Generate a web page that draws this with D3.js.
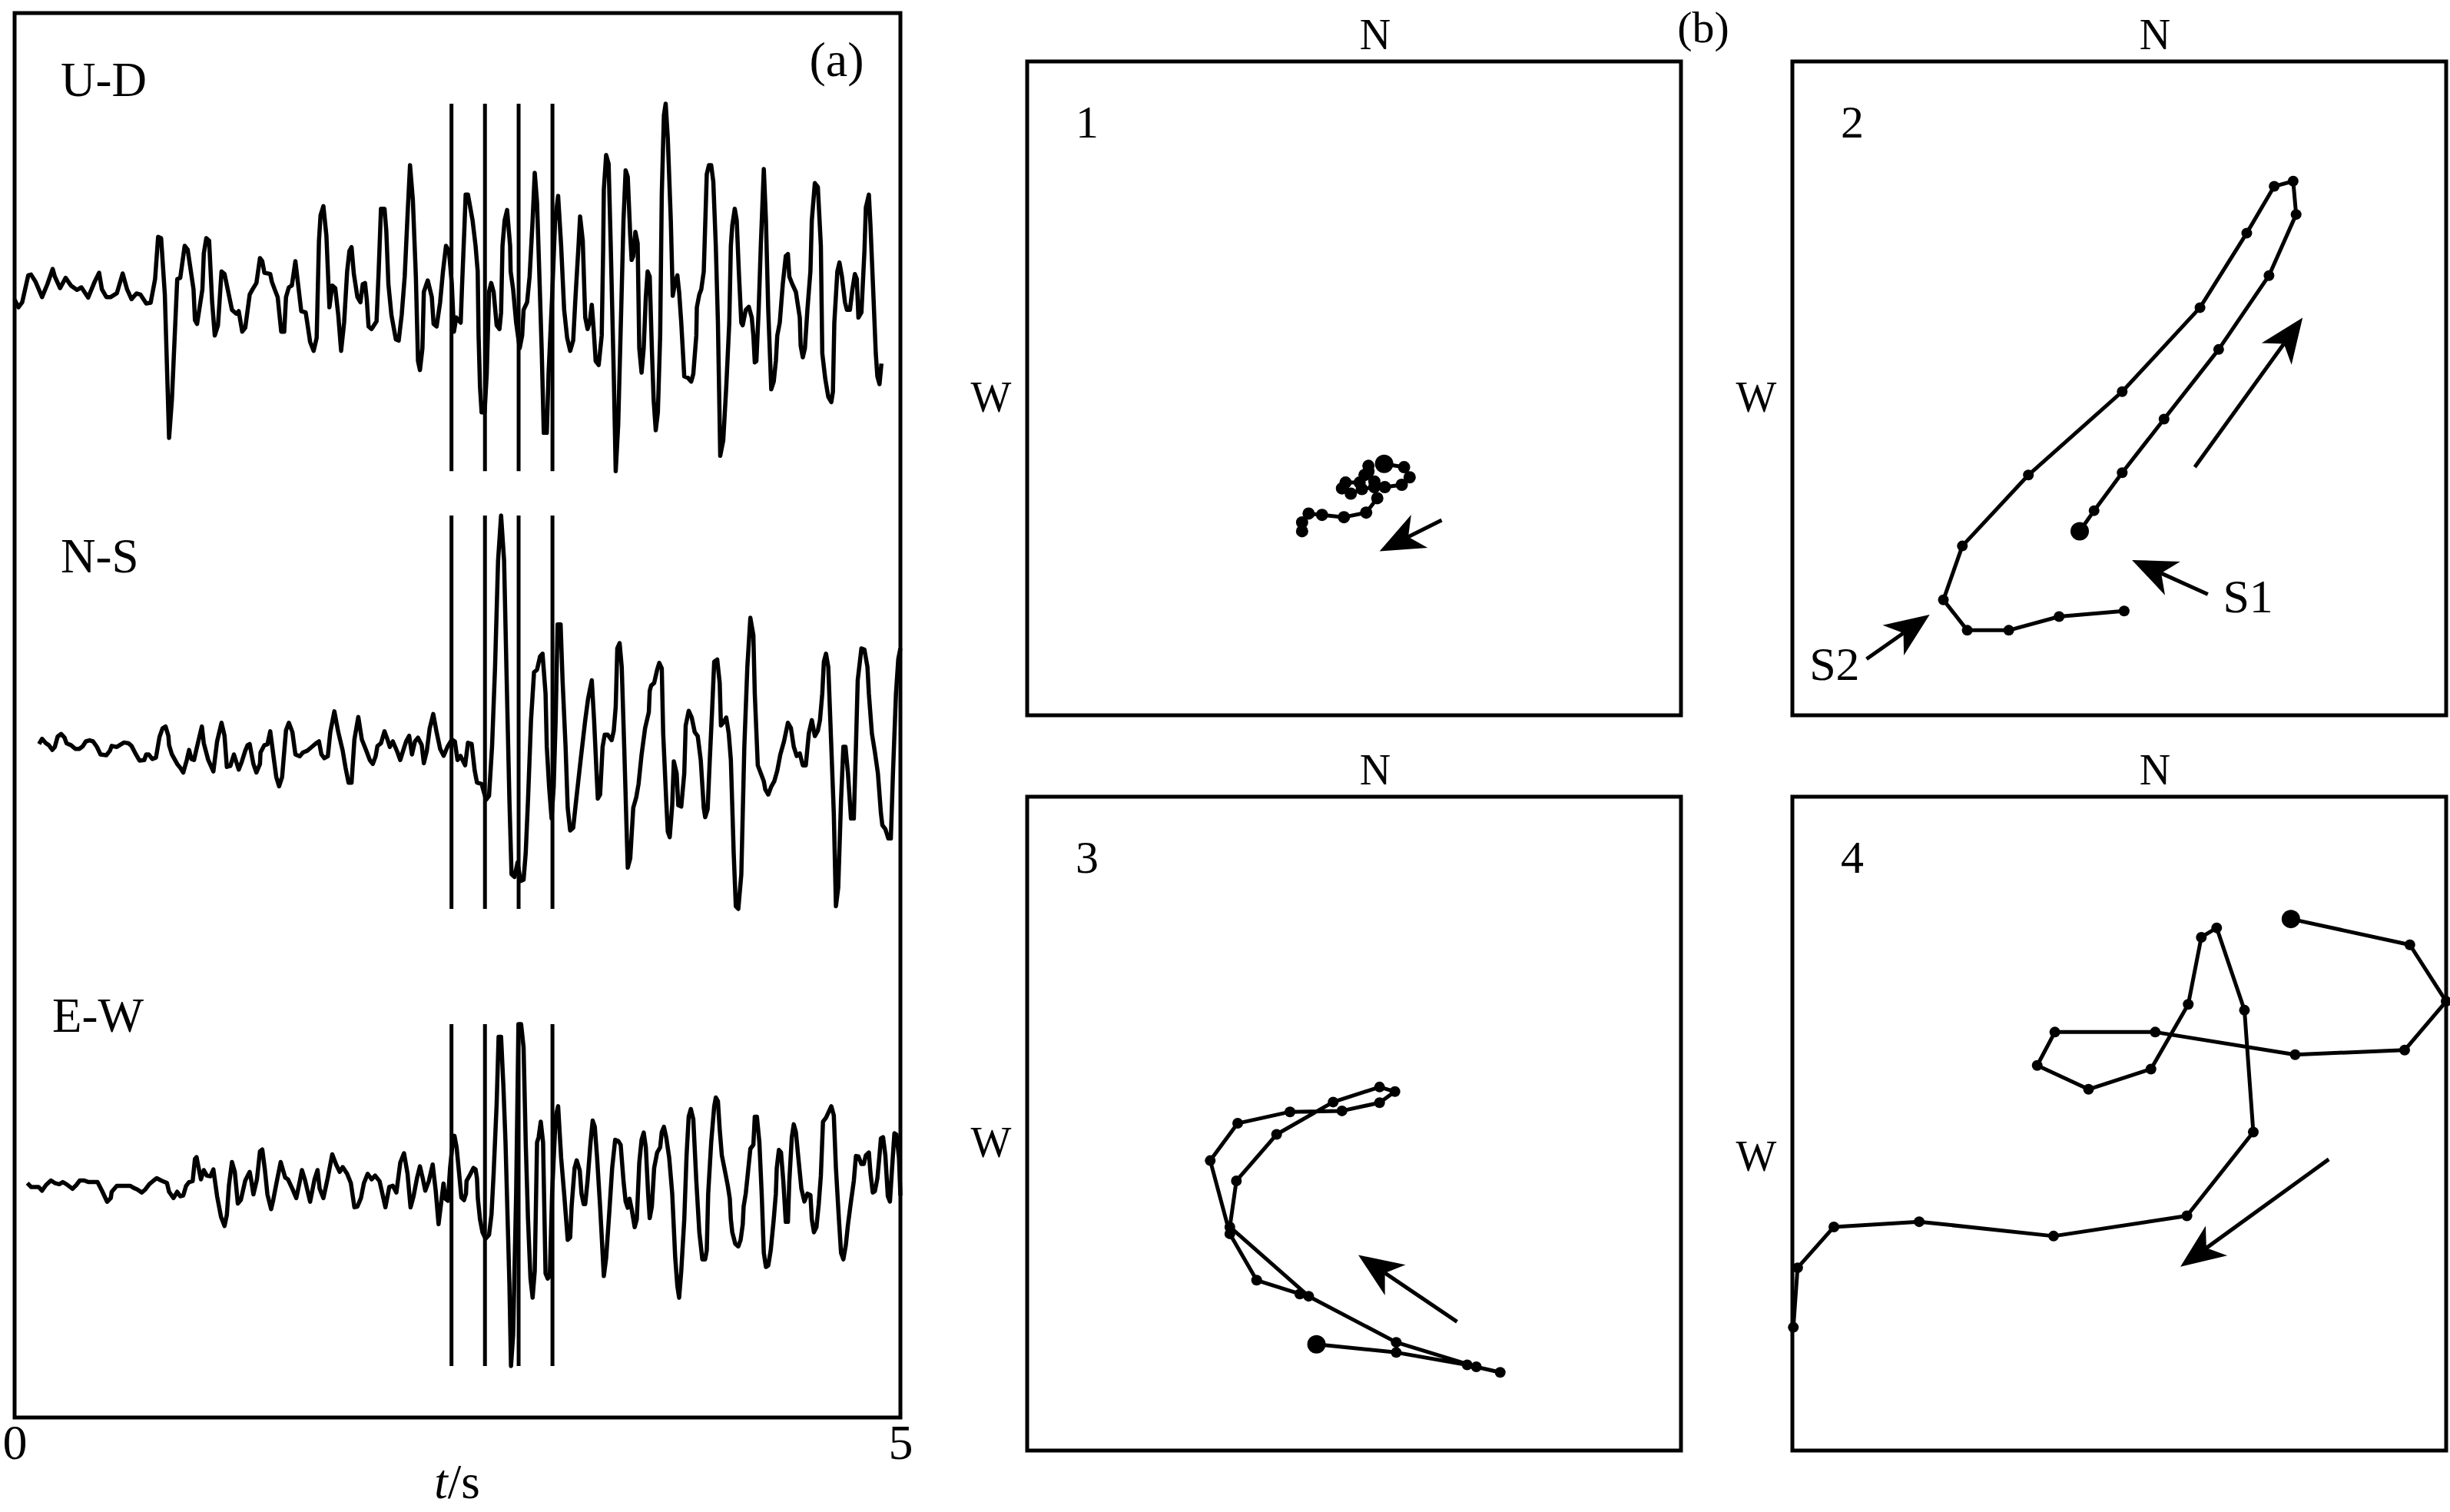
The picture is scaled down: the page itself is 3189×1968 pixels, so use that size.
<!DOCTYPE html>
<html><head><meta charset="utf-8">
<script src="https://cdn.jsdelivr.net/npm/d3@7"></script>
<style>body{margin:0;background:#fff}svg{display:block}text{font-family:"Liberation Serif","Times New Roman",serif;fill:#000}</style>
</head><body><svg id="c" width="3189" height="1968"></svg>
<script>
// ---------- data ----------
const timeTicks = [0, 5];
const markerTimes = [2.466, 2.655, 2.845, 3.036];
const componentNames = ["U-D", "N-S", "E-W"];
const panelNames = ["1", "2", "3", "4"];

const udTrace = [[0,-0.45],[0.022,-0.75],[0.043,-0.55],[0.077,0.50],[0.093,0.53],[0.118,0.25],[0.155,-0.35],[0.185,0.15],[0.215,0.75],[0.227,0.45],[0.257,0],[0.288,0.40],[0.318,0.10],[0.352,-0.07],[0.377,0.03],[0.415,-0.37],[0.452,0.25],[0.477,0.60],[0.493,-0.05],[0.518,-0.35],[0.543,-0.35],[0.577,-0.20],[0.610,0.57],[0.635,-0.05],[0.660,-0.43],[0.688,-0.21],[0.710,-0.25],[0.743,-0.60],[0.768,-0.57],[0.793,0.35],[0.810,2.00],[0.827,1.95],[0.848,-0.25],[0.872,-5.85],[0.888,-4.35],[0.918,0.35],[0.935,0.40],[0.960,1.65],[0.977,1.50],[1.010,-0.05],[1.018,-1.25],[1.030,-1.40],[1.060,-0.05],[1.068,1.35],[1.082,1.95],[1.098,1.85],[1.115,-0.55],[1.130,-1.85],[1.148,-1.45],[1.168,0.65],[1.185,0.55],[1.227,-0.85],[1.252,-1.00],[1.265,-0.90],[1.285,-1.70],[1.302,-1.55],[1.327,-0.25],[1.343,-0.05],[1.365,0.20],[1.385,1.17],[1.398,1.05],[1.410,0.60],[1.443,0.55],[1.452,0.25],[1.468,-0.05],[1.485,-0.35],[1.505,-1.70],[1.522,-1.70],[1.532,-0.35],[1.548,0.03],[1.565,0.10],[1.585,1.05],[1.602,0.05],[1.618,-0.90],[1.643,-0.95],[1.652,-1.35],[1.668,-2.10],[1.688,-2.45],[1.705,-1.95],[1.718,1.85],[1.727,2.85],[1.743,3.20],[1.760,2.05],[1.777,-0.75],[1.793,0.10],[1.810,0],[1.827,-1.05],[1.843,-2.45],[1.860,-1.35],[1.877,0.65],[1.890,1.45],[1.902,1.60],[1.915,0.55],[1.935,-0.35],[1.952,-0.55],[1.965,0.15],[1.978,0.20],[1.988,-0.45],[1.998,-1.50],[2.015,-1.60],[2.043,-1.30],[2.055,0.65],[2.068,3.10],[2.088,3.10],[2.098,2.25],[2.110,0.15],[2.127,-1.05],[2.152,-2.00],[2.168,-2.05],[2.185,-1.05],[2.202,0.45],[2.218,2.85],[2.232,4.80],[2.248,3.45],[2.265,0.45],[2.277,-2.85],[2.288,-3.20],[2.302,-2.35],[2.310,-0.15],[2.332,0.30],[2.355,-0.35],[2.365,-1.40],[2.382,-1.50],[2.402,-0.55],[2.418,0.65],[2.435,1.65],[2.452,1.45],[2.468,0.15],[2.480,-1.70],[2.493,-1.15],[2.518,-1.35],[2.526,0.15],[2.539,2.35],[2.546,3.65],[2.559,3.65],[2.585,2.65],[2.602,1.65],[2.614,0.65],[2.619,-1.85],[2.627,-3.85],[2.636,-4.85],[2.653,-4.85],[2.665,-3.35],[2.678,-0.15],[2.690,0.20],[2.704,-0.15],[2.721,-1.45],[2.737,-1.60],[2.746,-0.95],[2.754,1.65],[2.766,2.65],[2.780,3.05],[2.797,1.65],[2.800,0.65],[2.814,-0.05],[2.831,-1.35],[2.851,-2.35],[2.865,-1.85],[2.873,-0.85],[2.893,-0.55],[2.907,0.45],[2.924,2.65],[2.936,4.50],[2.949,3.35],[2.966,-0.35],[2.975,-2.35],[2.987,-5.65],[3.004,-5.65],[3.014,-3.35],[3.034,-0.35],[3.051,2.65],[3.068,3.60],[3.085,1.65],[3.102,-0.85],[3.119,-1.95],[3.136,-2.45],[3.153,-2.05],[3.166,-0.35],[3.183,1.65],[3.192,2.80],[3.207,1.85],[3.221,-1.15],[3.234,-1.60],[3.246,-1.35],[3.258,-0.65],[3.268,-1.55],[3.280,-2.85],[3.297,-3.00],[3.314,-1.85],[3.322,1.45],[3.326,3.85],[3.339,5.20],[3.353,4.85],[3.365,1.65],[3.382,-3.35],[3.393,-7.15],[3.407,-5.35],[3.424,-0.85],[3.437,2.65],[3.449,4.60],[3.461,4.35],[3.475,2.05],[3.483,1.10],[3.492,1.25],[3.504,2.20],[3.517,1.75],[3.526,-2.35],[3.539,-3.30],[3.551,-2.35],[3.563,-0.35],[3.573,0.65],[3.585,0.45],[3.597,-2.35],[3.607,-4.35],[3.619,-5.55],[3.631,-4.85],[3.644,-1.85],[3.653,3.65],[3.665,6.75],[3.675,7.20],[3.687,5.85],[3.704,2.65],[3.715,-0.30],[3.729,0.25],[3.741,0.50],[3.751,-0.15],[3.763,-1.35],[3.780,-3.45],[3.800,-3.50],[3.819,-3.65],[3.831,-3.35],[3.848,-1.85],[3.851,-0.75],[3.865,-0.25],[3.876,-0.05],[3.890,0.65],[3.907,4.45],[3.919,4.80],[3.932,4.80],[3.944,4.15],[3.958,1.65],[3.970,-1.35],[3.983,-6.55],[4.000,-5.95],[4.017,-3.85],[4.034,-1.35],[4.043,1.65],[4.051,2.45],[4.065,3.10],[4.076,2.65],[4.088,0.65],[4.102,-1.35],[4.110,-1.45],[4.127,-0.85],[4.144,-0.73],[4.161,-1.15],[4.170,-1.85],[4.178,-2.90],[4.187,-2.85],[4.200,-0.85],[4.212,1.65],[4.229,4.65],[4.241,2.65],[4.254,-0.85],[4.271,-3.95],[4.285,-3.65],[4.297,-2.85],[4.305,-1.85],[4.319,-1.35],[4.336,0.15],[4.353,1.25],[4.365,1.33],[4.373,0.45],[4.390,0.15],[4.410,-0.15],[4.432,-1.15],[4.437,-2.25],[4.449,-2.70],[4.461,-2.35],[4.475,-0.85],[4.492,0.65],[4.500,2.65],[4.517,4.10],[4.534,3.95],[4.551,1.65],[4.559,-2.55],[4.576,-3.55],[4.593,-4.25],[4.610,-4.45],[4.619,-4.05],[4.627,-1.35],[4.644,0.65],[4.656,1.00],[4.670,0.45],[4.687,-0.55],[4.698,-0.85],[4.715,-0.85],[4.729,-0.05],[4.743,0.55],[4.754,0.35],[4.763,-1.15],[4.780,-0.95],[4.797,1.45],[4.805,3.15],[4.822,3.65],[4.831,2.45],[4.848,-0.35],[4.861,-2.55],[4.870,-3.45],[4.882,-3.75],[4.893,-2.95]];

const nsTrace = [[0.138,-0.10],[0.155,0.10],[0.177,-0.07],[0.193,-0.14],[0.213,-0.32],[0.227,-0.21],[0.243,0.18],[0.263,0.28],[0.282,0.14],[0.293,-0.07],[0.318,-0.14],[0.343,-0.28],[0.365,-0.28],[0.385,-0.18],[0.402,0],[0.423,0.04],[0.443,0],[0.465,-0.21],[0.485,-0.49],[0.518,-0.52],[0.538,-0.35],[0.548,-0.17],[0.577,-0.21],[0.593,-0.14],[0.618,-0.04],[0.643,-0.07],[0.660,-0.17],[0.685,-0.49],[0.705,-0.72],[0.732,-0.70],[0.743,-0.49],[0.757,-0.49],[0.777,-0.66],[0.798,-0.61],[0.818,0.17],[0.835,0.49],[0.852,0.56],[0.868,0.21],[0.872,-0.14],[0.888,-0.49],[0.918,-0.85],[0.935,-0.99],[0.952,-1.17],[0.972,-0.70],[0.985,-0.32],[0.998,-0.66],[1.013,-0.70],[1.027,-0.28],[1.057,0.56],[1.068,-0.07],[1.093,-0.70],[1.122,-1.13],[1.143,0],[1.168,0.70],[1.185,0.21],[1.198,-0.96],[1.218,-0.92],[1.238,-0.49],[1.265,-1.06],[1.282,-0.77],[1.302,-0.35],[1.315,-0.14],[1.327,-0.10],[1.348,-0.85],[1.365,-1.17],[1.385,-0.85],[1.388,-0.42],[1.410,-0.14],[1.427,-0.11],[1.443,0.38],[1.460,-0.49],[1.477,-1.34],[1.493,-1.69],[1.510,-1.34],[1.532,0.42],[1.548,0.70],[1.568,0.35],[1.585,-0.49],[1.610,-0.56],[1.627,-0.42],[1.652,-0.35],[1.677,-0.21],[1.702,-0.07],[1.718,0],[1.732,-0.49],[1.748,-0.63],[1.768,-0.56],[1.782,0.35],[1.805,1.13],[1.827,0.35],[1.852,-0.35],[1.868,-0.99],[1.885,-1.55],[1.902,-1.55],[1.918,0.07],[1.940,0.92],[1.960,0.07],[1.985,-0.35],[2.005,-0.70],[2.022,-0.85],[2.038,-0.56],[2.048,-0.18],[2.068,-0.07],[2.088,0.38],[2.105,0.07],[2.118,-0.21],[2.135,0],[2.160,-0.39],[2.177,-0.70],[2.193,-0.35],[2.210,0],[2.227,0.21],[2.243,-0.49],[2.260,0],[2.277,0.14],[2.298,-0.14],[2.310,-0.82],[2.327,-0.35],[2.343,0.49],[2.363,1.03],[2.382,0.35],[2.402,-0.28],[2.422,-0.54],[2.443,-0.21],[2.468,0.07],[2.485,0],[2.500,-0.70],[2.517,-0.55],[2.543,-0.90],[2.559,-0.05],[2.580,-0.10],[2.597,-1.10],[2.610,-1.55],[2.636,-1.60],[2.661,-2.20],[2.678,-2.05],[2.695,-0.20],[2.712,2.80],[2.729,6.80],[2.746,8.50],[2.763,6.80],[2.776,2.80],[2.793,-2.20],[2.805,-5.00],[2.822,-5.10],[2.839,-4.55],[2.856,-5.25],[2.873,-5.20],[2.885,-4.20],[2.898,-2.20],[2.915,0.80],[2.932,2.60],[2.949,2.70],[2.966,3.20],[2.980,3.30],[2.997,1.80],[3.004,-0.20],[3.017,-1.70],[3.031,-2.90],[3.043,-1.70],[3.054,0.80],[3.065,4.40],[3.082,4.40],[3.093,2.30],[3.110,-0.20],[3.122,-2.50],[3.136,-3.35],[3.153,-3.25],[3.170,-2.20],[3.195,-0.70],[3.221,0.80],[3.237,1.60],[3.258,2.30],[3.271,0.80],[3.285,-1.20],[3.292,-2.15],[3.305,-2.00],[3.319,-0.20],[3.331,0.25],[3.348,0.25],[3.370,0.05],[3.382,0.40],[3.393,1.30],[3.402,3.50],[3.415,3.70],[3.427,2.80],[3.441,-0.20],[3.454,-3.20],[3.461,-4.75],[3.475,-4.40],[3.492,-2.50],[3.509,-2.10],[3.522,-1.60],[3.539,-0.50],[3.559,0.50],[3.580,1.10],[3.585,1.90],[3.593,2.10],[3.610,2.20],[3.627,2.70],[3.639,2.95],[3.653,2.75],[3.661,0.30],[3.678,-2.20],[3.687,-3.40],[3.698,-3.60],[3.712,-2.40],[3.721,-0.75],[3.737,-1.20],[3.746,-2.40],[3.763,-2.45],[3.780,-1.20],[3.788,0.60],[3.805,1.15],[3.822,0.90],[3.839,0.35],[3.856,0.20],[3.873,-0.70],[3.890,-2.50],[3.898,-2.85],[3.912,-2.55],[3.924,-0.70],[3.936,1.00],[3.949,3.00],[3.966,3.08],[3.980,2.20],[3.987,0.60],[4.000,0.70],[4.017,0.90],[4.031,0.30],[4.043,-0.70],[4.059,-4.20],[4.071,-6.20],[4.085,-6.30],[4.102,-5.00],[4.119,-0.20],[4.136,2.80],[4.153,4.65],[4.170,4.00],[4.178,1.80],[4.195,-0.90],[4.212,-1.20],[4.229,-1.50],[4.237,-1.80],[4.254,-2.00],[4.271,-1.70],[4.288,-1.50],[4.305,-1.10],[4.322,-0.50],[4.343,0],[4.365,0.70],[4.382,0.50],[4.398,-0.20],[4.415,-0.55],[4.432,-0.45],[4.449,-0.90],[4.466,-0.90],[4.483,0.30],[4.500,0.80],[4.517,0.20],[4.534,0.40],[4.546,0.80],[4.559,1.80],[4.568,3.00],[4.580,3.30],[4.593,2.80],[4.610,-0.20],[4.624,-2.70],[4.636,-6.20],[4.649,-5.50],[4.665,-2.20],[4.678,-0.20],[4.690,-0.20],[4.704,-1.20],[4.721,-2.90],[4.737,-2.90],[4.749,-0.20],[4.759,2.30],[4.780,3.50],[4.797,3.45],[4.814,2.80],[4.822,1.80],[4.839,0.30],[4.856,-0.40],[4.873,-1.20],[4.890,-2.70],[4.898,-3.15],[4.915,-3.30],[4.932,-3.65],[4.946,-3.65],[4.958,-1.20],[4.975,1.80],[4.988,3.10],[5.0,3.50]];

const ewTrace = [[0.072,-0.06],[0.093,-0.23],[0.118,-0.23],[0.135,-0.23],[0.155,-0.39],[0.177,-0.15],[0.205,0.05],[0.227,-0.06],[0.252,-0.11],[0.272,-0.02],[0.293,-0.11],[0.327,-0.31],[0.348,-0.15],[0.368,0.05],[0.393,0.05],[0.418,-0.02],[0.468,-0.02],[0.493,-0.39],[0.522,-0.87],[0.543,-0.71],[0.548,-0.44],[0.577,-0.18],[0.602,-0.18],[0.652,-0.18],[0.672,-0.27],[0.693,-0.34],[0.718,-0.47],[0.738,-0.34],[0.760,-0.11],[0.785,0.05],[0.802,0.15],[0.827,0.05],[0.860,-0.06],[0.872,-0.44],[0.897,-0.71],[0.918,-0.44],[0.935,-0.63],[0.952,-0.60],[0.968,-0.18],[0.985,-0.02],[1.005,0.02],[1.018,0.98],[1.027,1.06],[1.038,0.63],[1.052,0.10],[1.068,0.50],[1.085,0.26],[1.105,0.23],[1.122,0.53],[1.143,-0.63],[1.165,-1.52],[1.185,-1.92],[1.198,-1.44],[1.210,-0.15],[1.227,0.85],[1.243,0.42],[1.260,-0.95],[1.277,-0.79],[1.302,0.05],[1.327,0.42],[1.335,0.10],[1.348,-0.55],[1.368,0.10],[1.385,1.31],[1.398,1.39],[1.413,0.50],[1.427,-0.55],[1.448,-1.19],[1.460,-0.79],[1.477,-0.11],[1.502,0.85],[1.527,0.18],[1.543,0.10],[1.568,-0.31],[1.590,-0.71],[1.610,0.02],[1.622,0.50],[1.638,0.10],[1.668,-0.87],[1.693,0.10],[1.710,0.50],[1.722,-0.31],[1.743,-0.71],[1.768,0.18],[1.793,1.18],[1.815,0.74],[1.835,0.42],[1.852,0.63],[1.877,0.34],[1.898,-0.06],[1.918,-1.11],[1.935,-1.08],[1.955,-0.71],[1.972,-0.06],[1.993,0.34],[2.015,0.10],[2.035,0.26],[2.060,0.02],[2.077,-0.55],[2.093,-1.11],[2.115,-0.23],[2.135,-0.18],[2.155,-0.47],[2.177,0.82],[2.198,1.23],[2.218,0.34],[2.235,-1.11],[2.252,-0.63],[2.272,0.18],[2.288,0.66],[2.305,0.10],[2.318,-0.39],[2.338,0.02],[2.360,0.74],[2.377,-0.39],[2.393,-1.84],[2.421,-0.08],[2.432,-0.74],[2.446,-0.83],[2.458,0.59],[2.470,1.48],[2.483,1.98],[2.495,1.48],[2.509,0.37],[2.522,-0.69],[2.537,-0.80],[2.548,-0.52],[2.551,0.03],[2.568,0.26],[2.590,0.59],[2.602,0.53],[2.610,0.14],[2.615,-0.74],[2.627,-1.63],[2.641,-2.19],[2.658,-2.47],[2.678,-2.30],[2.692,-1.41],[2.704,0.37],[2.721,3.37],[2.732,6.26],[2.746,6.26],[2.759,4.14],[2.771,1.70],[2.783,-1.63],[2.793,-4.41],[2.802,-7.97],[2.814,-6.63],[2.831,-0.52],[2.844,6.81],[2.859,6.81],[2.873,5.81],[2.885,1.70],[2.898,-1.63],[2.912,-4.19],[2.924,-5.02],[2.936,-3.86],[2.949,1.70],[2.958,1.92],[2.970,2.59],[2.983,1.70],[2.997,-3.97],[3.009,-4.19],[3.021,-4.08],[3.034,-0.52],[3.054,2.81],[3.068,3.26],[3.085,1.03],[3.102,-0.52],[3.122,-2.52],[3.136,-2.41],[3.144,-1.08],[3.161,0.59],[3.173,0.92],[3.190,0.48],[3.200,-0.52],[3.212,-0.97],[3.221,-0.97],[3.234,0.03],[3.251,1.70],[3.263,2.64],[3.275,2.37],[3.288,1.03],[3.305,-1.08],[3.326,-4.08],[3.339,-3.30],[3.356,-1.41],[3.373,0.59],[3.390,1.81],[3.407,1.76],[3.421,1.59],[3.437,0.03],[3.449,-0.86],[3.461,-1.13],[3.471,-0.74],[3.483,-1.19],[3.500,-1.97],[3.512,-1.63],[3.526,0.81],[3.539,1.81],[3.551,2.12],[3.563,1.48],[3.576,-0.52],[3.585,-1.58],[3.597,-1.08],[3.610,0.59],[3.627,1.26],[3.644,1.48],[3.653,2.14],[3.665,2.37],[3.678,1.92],[3.695,1.03],[3.712,-0.52],[3.729,-3.30],[3.741,-4.52],[3.751,-5.02],[3.763,-3.86],[3.780,-1.63],[3.793,1.14],[3.805,2.81],[3.817,3.14],[3.831,2.70],[3.848,0.03],[3.865,-2.19],[3.882,-3.36],[3.898,-3.36],[3.907,-2.97],[3.915,-0.52],[3.932,1.70],[3.949,3.26],[3.958,3.64],[3.970,3.48],[3.980,2.26],[3.992,1.14],[4.009,0.48],[4.026,-0.19],[4.037,-0.74],[4.043,-1.63],[4.051,-2.19],[4.068,-2.69],[4.085,-2.80],[4.098,-2.52],[4.110,-1.86],[4.115,-1.08],[4.127,-0.52],[4.139,0.37],[4.153,1.42],[4.170,1.59],[4.178,2.81],[4.190,2.81],[4.204,1.70],[4.217,-0.52],[4.229,-3.08],[4.241,-3.69],[4.254,-3.63],[4.268,-2.97],[4.285,-1.63],[4.297,-0.52],[4.302,0.59],[4.314,1.37],[4.326,1.26],[4.339,0.03],[4.353,-1.74],[4.365,-1.74],[4.373,0.03],[4.387,1.92],[4.398,2.48],[4.410,2.14],[4.424,1.03],[4.441,-0.30],[4.458,-0.86],[4.475,-0.52],[4.492,-0.58],[4.500,-1.63],[4.512,-2.19],[4.526,-1.97],[4.539,-0.97],[4.551,0.26],[4.563,2.59],[4.580,2.76],[4.593,2.98],[4.610,3.26],[4.624,2.87],[4.636,0.59],[4.653,-1.63],[4.665,-3.08],[4.678,-3.36],[4.692,-2.74],[4.704,-1.86],[4.721,-0.86],[4.737,0.03],[4.749,1.11],[4.763,1.09],[4.780,0.76],[4.793,0.76],[4.805,1.14],[4.822,1.26],[4.831,0.37],[4.844,-0.47],[4.856,-0.41],[4.870,0.14],[4.882,1.14],[4.890,1.87],[4.902,1.92],[4.915,1.14],[4.929,-0.63],[4.941,-0.86],[4.953,0.59],[4.966,2.09],[4.978,2.03],[4.992,1.03],[5.0,-0.6]];

// particle-motion (E, N) samples, box spans -10..10
const hodo1 = [[0.92,-2.31],[1.53,-2.41],[1.70,-2.72],[1.46,-2.95],[0.94,-3.02],[0.62,-2.85],[0.44,-2.54],[0.44,-2.37],[0.32,-2.65],[0.17,-2.88],[-0.26,-2.88],[-0.37,-3.06],[-0.10,-3.22],[0.24,-3.08],[0.62,-3.02],[0.71,-3.36],[0.37,-3.80],[-0.31,-3.94],[-0.98,-3.87],[-1.39,-3.83],[-1.59,-4.10],[-1.59,-4.37]];
const hodo2 = [[-1.21,-4.37],[-0.77,-3.74],[0.09,-2.58],[1.37,-0.94],[3.04,1.19],[4.58,3.45],[5.41,5.32],[5.32,6.34],[4.74,6.18],[3.90,4.75],[2.47,2.47],[0.09,-0.10],[-2.78,-2.65],[-4.80,-4.82],[-5.38,-6.47],[-4.65,-7.40],[-3.38,-7.40],[-1.84,-6.98],[0.15,-6.81]];
const hodo3 = [[-1.15,-6.75],[1.29,-7.00],[3.46,-7.38],[4.47,-7.61],[3.74,-7.44],[1.29,-6.69],[-1.39,-5.28],[-3.80,-3.16],[-3.60,-1.75],[-2.37,-0.33],[-0.64,0.66],[0.78,1.12],[1.25,0.98],[0.78,0.64],[-0.37,0.39],[-1.96,0.36],[-3.56,0.01],[-4.40,-1.13],[-3.80,-3.37],[-2.98,-4.79],[-1.66,-5.21]];
const hodo4 = [[5.25,6.26],[8.89,5.47],[10.0,3.74],[8.73,2.25],[5.38,2.11],[1.10,2.80],[-1.97,2.80],[-2.51,1.78],[-0.94,1.05],[0.97,1.67],[2.11,3.65],[2.51,5.70],[2.98,5.99],[3.83,3.47],[4.10,-0.26],[2.07,-2.82],[-2.01,-3.44],[-6.12,-3.00],[-8.73,-3.16],[-9.84,-4.41],[-9.97,-6.23]];
// arrows: [tailE, tailN, tipE, tipN]
const arrows1 = [[2.68,-4.03,0.78,-4.98]];
const arrows2 = [[2.31,-2.41,5.61,2.16],[2.71,-6.30,0.39,-5.25],[-7.73,-8.28,-5.80,-6.92]];
const arrows3 = [[3.15,-6.06,0.13,-4.02]];
const arrows4 = [[6.41,-1.09,1.87,-4.38]];
const phaseLabels2 = [["S1",3.94,-6.85],["S2",-8.71,-8.92]];

// ---------- drawing ----------
const svg = d3.select("#c");
svg.append("rect").attr("width",3189).attr("height",1968).attr("fill","#fff");

// Panel (a)
const A = {x0:19, x1:1172, y0:17, y1:1845};
const xT = d3.scaleLinear().domain([0,5]).range([A.x0, A.x1]);
const gA = svg.append("g");
gA.append("rect").attr("x",A.x0).attr("y",A.y0).attr("width",A.x1-A.x0).attr("height",A.y1-A.y0)
  .attr("fill","none").attr("stroke","#000").attr("stroke-width",5);

const comps = [
  {name:componentNames[0], data:udTrace, base:375, ppu:33.33, lx:79, ly:125},
  {name:componentNames[1], data:nsTrace, base:965, ppu:34.6, lx:79, ly:745},
  {name:componentNames[2], data:ewTrace, base:1538, ppu:30.1, lx:68, ly:1343}
];
comps.forEach(c => {
  const y = d3.scaleLinear().domain([-1,1]).range([c.base + c.ppu, c.base - c.ppu]);
  const [mn, mx] = d3.extent(c.data, d => d[1]);
  gA.selectAll(null).data(markerTimes).enter().append("line")
    .attr("x1", d => xT(d)).attr("x2", d => xT(d))
    .attr("y1", y(mx)).attr("y2", y(mn))
    .attr("stroke","#000").attr("stroke-width",5);
  gA.append("path").datum(c.data)
    .attr("d", d3.line().x(d => xT(d[0])).y(d => y(d[1])))
    .attr("fill","none").attr("stroke","#000").attr("stroke-width",5.5)
    .attr("stroke-linejoin","round");
  gA.append("text").attr("x",c.lx).attr("y",c.ly).attr("font-size",63).text(c.name);
});
gA.append("text").attr("x",1089).attr("y",99).attr("text-anchor","middle").attr("font-size",64).text("(a)");

const axis = d3.axisBottom(xT).tickValues(timeTicks).tickSize(0).tickPadding(9).tickFormat(d3.format("d"));
const gAx = gA.append("g").attr("transform",`translate(0,${A.y1})`).call(axis);
gAx.select(".domain").remove();
gAx.selectAll("text").attr("font-size",64).attr("font-family","Liberation Serif, serif").attr("fill","#000");
const tl = gA.append("text").attr("x",595).attr("y",1950).attr("text-anchor","middle").attr("font-size",63);
tl.append("tspan").attr("font-style","italic").text("t");
tl.append("tspan").text("/s");

// Panel (b)
svg.append("text").attr("x",2217).attr("y",55).attr("text-anchor","middle").attr("font-size",58).text("(b)");
const S = 851;
const panels = [
  {x:1337, y:80, data:hodo1, arrows:arrows1, nx:453, wy:456, r:8, R:12},
  {x:2333, y:80, data:hodo2, arrows:arrows2, nx:472, wy:456, r:7, R:12},
  {x:1337, y:1037, data:hodo3, arrows:arrows3, nx:453, wy:469, r:7, R:12},
  {x:2333, y:1037, data:hodo4, arrows:arrows4, nx:472, wy:487, r:7, R:12}
];
panels.forEach((p, i) => {
  const g = svg.append("g");
  const sx = d3.scaleLinear().domain([-10,10]).range([p.x, p.x + S]);
  const sy = d3.scaleLinear().domain([-10,10]).range([p.y + S, p.y]);
  g.append("rect").attr("x",p.x).attr("y",p.y).attr("width",S).attr("height",S)
    .attr("fill","none").attr("stroke","#000").attr("stroke-width",5);
  g.append("text").attr("x",p.x + p.nx).attr("y",p.y - 16).attr("text-anchor","middle").attr("font-size",56).text("N");
  g.append("text").attr("x",p.x - 47).attr("y",p.y + p.wy).attr("text-anchor","middle").attr("font-size",56).text("W");
  g.append("text").attr("x",p.x + 78).attr("y",p.y + 99).attr("text-anchor","middle").attr("font-size",60).text(panelNames[i]);
  g.append("path").datum(p.data)
    .attr("d", d3.line().x(d => sx(d[0])).y(d => sy(d[1])))
    .attr("fill","none").attr("stroke","#000").attr("stroke-width",5).attr("stroke-linejoin","round");
  g.selectAll(null).data(p.data).enter().append("circle")
    .attr("cx", d => sx(d[0])).attr("cy", d => sy(d[1]))
    .attr("r", (d, j) => j === 0 ? p.R : p.r).attr("fill","#000");
  p.arrows.forEach(a => {
    const x1 = sx(a[0]), y1 = sy(a[1]), x2 = sx(a[2]), y2 = sy(a[3]);
    const ang = Math.atan2(y2 - y1, x2 - x1);
    const ux = Math.cos(ang), uy = Math.sin(ang), px = -uy, py = ux;
    const L = 58, H = 24;
    const bx = x2 - ux*L, by = y2 - uy*L;
    const nx = x2 - ux*L*0.72, ny = y2 - uy*L*0.72;
    g.append("line").attr("x1",x1).attr("y1",y1).attr("x2",nx).attr("y2",ny)
      .attr("stroke","#000").attr("stroke-width",5);
    g.append("polygon").attr("points", [[x2,y2],[bx+px*H,by+py*H],[nx,ny],[bx-px*H,by-py*H]].map(q => q.join(",")).join(" "))
      .attr("fill","#000");
  });
  if (i === 1) {
    phaseLabels2.forEach(l => {
      g.append("text").attr("x",sx(l[1])).attr("y",sy(l[2])).attr("text-anchor","middle").attr("font-size",62).text(l[0]);
    });
  }
});
</script></body></html>
